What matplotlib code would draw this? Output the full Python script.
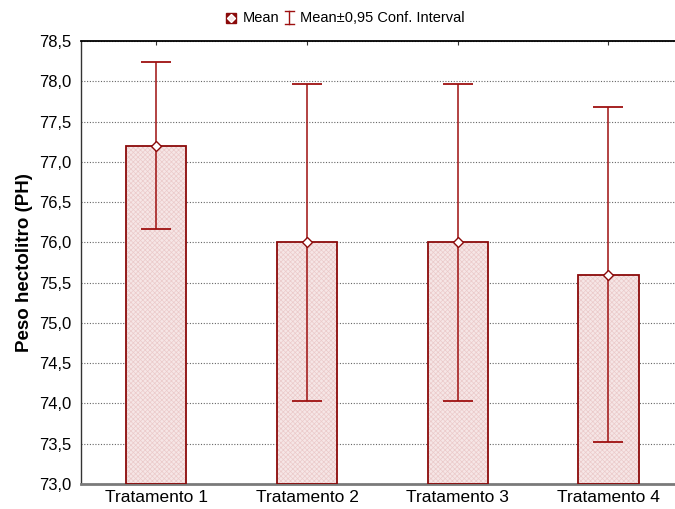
import numpy as np
import matplotlib.pyplot as plt
from matplotlib.lines import Line2D

plt.rcParams['font.family'] = ['Liberation Sans', 'DejaVu Sans']

# Data
groups = ['Tratamento 1', 'Tratamento 2', 'Tratamento 3', 'Tratamento 4']
means = [77.2, 76.0, 76.0, 75.6]
ci_low = [76.16, 74.03, 74.03, 73.52]
ci_high = [78.24, 77.97, 77.97, 77.68]
yticks = np.arange(73.0, 78.51, 0.5)

dark = '#8b0a0a'
x = np.arange(len(groups))
base = 73.0

fig = plt.figure(figsize=(6.75, 5.09), dpi=100)
ax = fig.add_axes([0.12, 0.0491, 0.893, 0.8703])

# grid behind bars
ax.set_axisbelow(True)
ax.yaxis.grid(True, linestyle=(0, (1, 1.5)), color='#666666', linewidth=0.8)

# hatched pink fill, then dark outline on top
plt.rcParams['hatch.linewidth'] = 0.5
ax.bar(x, np.array(means) - base, bottom=base, width=0.4, color='#f6e6e6',
       edgecolor='#ebcaca', hatch='xxxxxxx', linewidth=0, zorder=2)
ax.bar(x, np.array(means) - base, bottom=base, width=0.4, fill=False,
       edgecolor=dark, linewidth=1.3, zorder=3)

# confidence intervals
yerr = [np.array(means) - np.array(ci_low), np.array(ci_high) - np.array(means)]
ax.errorbar(x, means, yerr=yerr, fmt='none', ecolor='#9e1010', elinewidth=1.1,
            capsize=11, capthick=1.3, zorder=4)
ax.plot(x, means, linestyle='none', marker='D', markersize=5.5,
        markerfacecolor='white', markeredgecolor=dark, markeredgewidth=1.0, zorder=5)

ax.set_xlim(-0.5, 3.5)
ax.set_ylim(73.0, 78.5)
ax.set_yticks(yticks)
ax.set_yticklabels([f'{v:.1f}'.replace('.', ',') for v in yticks], fontsize=12)
ax.set_xticks(x)
ax.set_xticklabels(groups, fontsize=12.5)
ax.tick_params(axis='y', length=0, pad=7)
ax.tick_params(axis='x', direction='in', length=3, pad=4, top=True, color='#333333')
ax.set_ylabel('Peso hectolitro (PH)', fontsize=13.5, fontweight='bold', labelpad=4)

ax.spines['top'].set_linewidth(1.3)
ax.spines['left'].set_linewidth(1.0)
ax.spines['left'].set_color('#333333')
ax.spines['bottom'].set_linewidth(2.0)
ax.spines['bottom'].set_color('#7a7a7a')
ax.spines['right'].set_visible(False)

# legend drawn by hand at the top (pixel coords -> figure fraction)
W, H = 675, 509
fx = lambda px: px / W
fy = lambda py: 1 - py / H
ly = 17.5
fig.add_artist(Line2D([fx(230.5)], [fy(ly)], marker='s', markersize=6.5,
                      markerfacecolor=dark, markeredgecolor=dark, linestyle='none'))
fig.add_artist(Line2D([fx(230.5)], [fy(ly)], marker='D', markersize=3.6,
                      markerfacecolor='#f6e6e6', markeredgecolor='white', linestyle='none'))
fig.text(fx(243), fy(ly), 'Mean', fontsize=10.5, va='center', ha='left')
# I-beam icon
fig.add_artist(Line2D([fx(289), fx(289)], [fy(11), fy(24)], color='#9e1010', lw=1.0))
fig.add_artist(Line2D([fx(284.5), fx(293.5)], [fy(11), fy(11)], color='#9e1010', lw=1.0))
fig.add_artist(Line2D([fx(284.5), fx(293.5)], [fy(24), fy(24)], color='#9e1010', lw=1.0))
fig.text(fx(300), fy(ly), 'Mean±0,95 Conf. Interval', fontsize=10.5, va='center', ha='left')

fig.savefig('out.png', dpi=100)
